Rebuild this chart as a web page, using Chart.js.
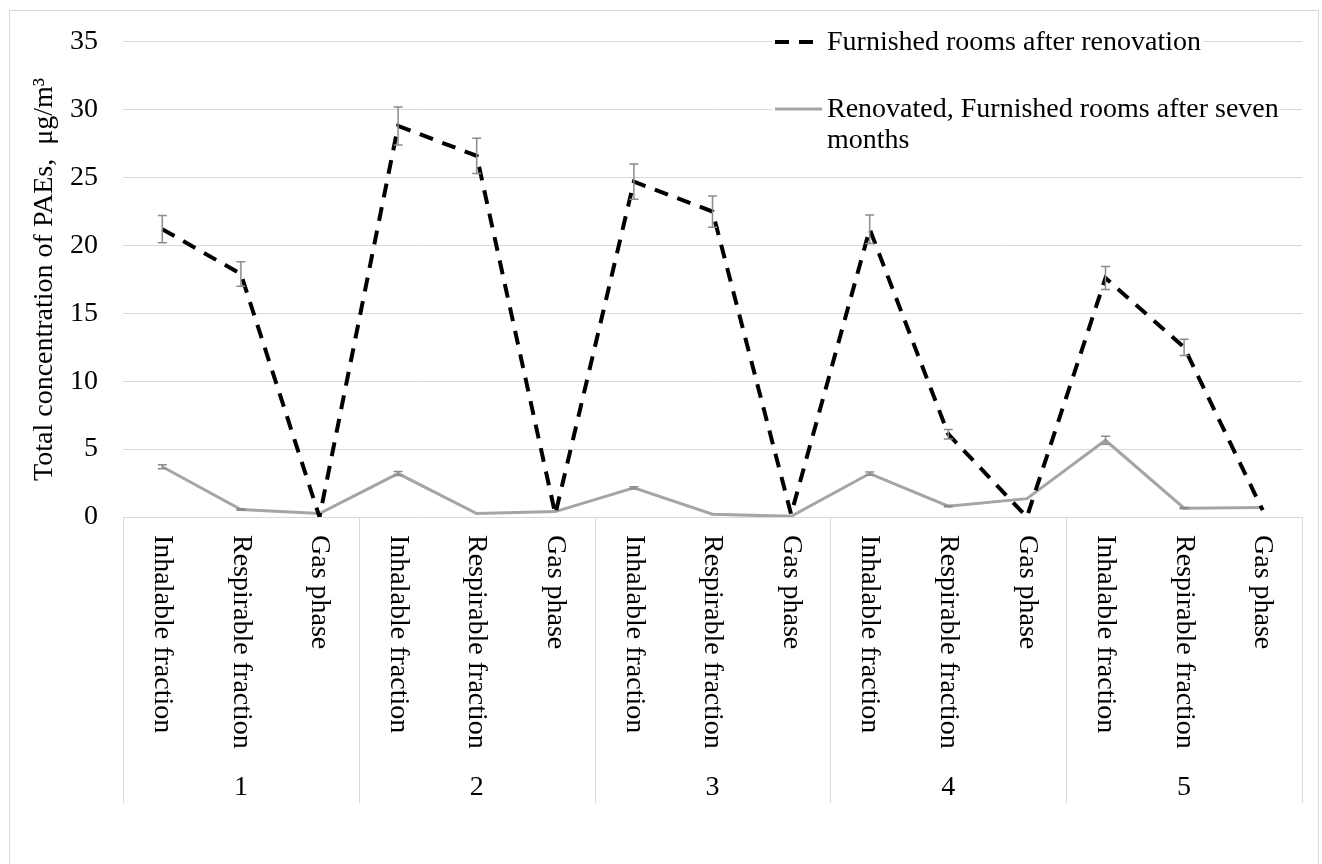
<!DOCTYPE html>
<html>
<head>
<meta charset="utf-8">
<title>PAEs</title>
<script src="https://cdn.jsdelivr.net/npm/chart.js@4/dist/chart.umd.min.js"></script>
<style>
  html, body { margin: 0; padding: 0; background: #fff; }
  canvas { display: block; }
</style>
</head>
<body>
<canvas id="paeChart" width="1322" height="864"></canvas>
<script>
// categorias e grupos (salas 1..5)
const fractions = ["Inhalable fraction", "Respirable fraction", "Gas phase"];
const rooms = ["1", "2", "3", "4", "5"];
const categories = [];
rooms.forEach(function () { fractions.forEach(function (f) { categories.push(f); }); });

const yTicks = [0, 5, 10, 15, 20, 25, 30, 35];

// valores
const afterRenovation = [21.2, 17.9, 0, 28.8, 26.6, 0.2, 24.7, 22.5, 0.2, 21.2, 6.1, 0, 17.6, 12.5, 0.5];
const afterRenovationErr = [1.0, 0.9, 0, 1.4, 1.3, 0, 1.3, 1.15, 0, 1.05, 0.35, 0, 0.85, 0.6, 0];
const afterSevenMonths = [3.7, 0.55, 0.25, 3.2, 0.25, 0.4, 2.15, 0.2, 0.05, 3.2, 0.8, 1.35, 5.65, 0.65, 0.7];
const afterSevenMonthsErr = [0.15, 0.05, 0, 0.15, 0, 0, 0.08, 0, 0, 0.12, 0.05, 0, 0.3, 0.05, 0];

const FONT = "Liberation Serif";
const FS = 28;
const GRID = "#d9d9d9";

// barras de erro
const errorBars = {
    id: "errorBars",
    afterDatasetsDraw(chart) {
        const ctx = chart.ctx;
        const y = chart.scales.y;
        ctx.save();
        ctx.strokeStyle = "#8c8c8c";
        ctx.lineWidth = 1.5;
        chart.data.datasets.forEach(function (ds, di) {
            const meta = chart.getDatasetMeta(di);
            if (!ds.errors) return;
            meta.data.forEach(function (pt, i) {
                const e = ds.errors[i];
                if (!e) return;
                const v = ds.data[i];
                const top = y.getPixelForValue(v + e);
                const bot = y.getPixelForValue(v - e);
                const x = pt.x;
                ctx.beginPath();
                ctx.moveTo(x, top); ctx.lineTo(x, bot);
                ctx.moveTo(x - 4.5, top); ctx.lineTo(x + 4.5, top);
                ctx.moveTo(x - 4.5, bot); ctx.lineTo(x + 4.5, bot);
                ctx.stroke();
            });
        });
        ctx.restore();
    }
};

// eixo x em dois níveis (frações giradas + número da sala)
const groupAxis = {
    id: "groupAxis",
    beforeDraw(chart) {
        const ctx = chart.ctx;
        ctx.save();
        ctx.fillStyle = "#fff";
        ctx.fillRect(0, 0, chart.width, chart.height);
        ctx.strokeStyle = GRID;
        ctx.lineWidth = 1;
        ctx.strokeRect(9.5, 10.5, 1309, 870);
        ctx.restore();
    },
    afterDraw(chart) {
        const ctx = chart.ctx;
        const x = chart.scales.x;
        const area = chart.chartArea;
        const boxBottom = area.bottom + 286;
        ctx.save();
        ctx.strokeStyle = GRID;
        ctx.lineWidth = 1;
        // separadores dos grupos
        const n = fractions.length;
        for (let g = 0; g <= rooms.length; g++) {
            let px;
            if (g === 0) px = area.left;
            else if (g === rooms.length) px = area.right;
            else px = (x.getPixelForValue(g * n - 1) + x.getPixelForValue(g * n)) / 2;
            px = Math.round(px) + 0.5;
            ctx.beginPath();
            ctx.moveTo(px, area.bottom);
            ctx.lineTo(px, boxBottom);
            ctx.stroke();
        }
        ctx.fillStyle = "#000";
        ctx.font = FS + "px '" + FONT + "'";
        ctx.textAlign = "left";
        ctx.textBaseline = "middle";
        categories.forEach(function (label, i) {
            const px = x.getPixelForValue(i);
            ctx.save();
            ctx.translate(px, area.bottom + 18);
            ctx.rotate(Math.PI / 2);
            ctx.fillText(label, 0, 0);
            ctx.restore();
        });
        ctx.textAlign = "center";
        rooms.forEach(function (r, g) {
            const px = (x.getPixelForValue(g * n) + x.getPixelForValue(g * n + n - 1)) / 2;
            ctx.fillText(r, px, area.bottom + 271);
        });
        ctx.restore();
    }
};

// legenda no canto superior direito
const sideLegend = {
    id: "sideLegend",
    afterDraw(chart) {
        const ctx = chart.ctx;
        const area = chart.chartArea;
        const textX = 827;
        const maxW = area.right - textX;
        const rows = [43, 110];
        const lineH = 31;
        ctx.save();
        ctx.font = FS + "px '" + FONT + "'";
        ctx.textBaseline = "middle";
        ctx.textAlign = "left";
        chart.data.datasets.forEach(function (ds, di) {
            // quebra de linha simples
            const words = ds.label.split(" ");
            const lines = [];
            let cur = "";
            words.forEach(function (w) {
                const t = cur ? cur + " " + w : w;
                if (ctx.measureText(t).width > maxW && cur) { lines.push(cur); cur = w; }
                else cur = t;
            });
            lines.push(cur);
            const y0 = rows[di];
            // fundo branco atrás do texto
            ctx.fillStyle = "#fff";
            lines.forEach(function (l, li) {
                ctx.fillRect(772, y0 + li * lineH - 13, textX - 772 + ctx.measureText(l).width + 2, 26);
            });
            ctx.strokeStyle = ds.borderColor;
            ctx.lineWidth = ds.borderWidth;
            ctx.setLineDash(ds.borderDash || []);
            ctx.beginPath();
            ctx.moveTo(775, y0 - 1);
            ctx.lineTo(822, y0 - 1);
            ctx.stroke();
            ctx.setLineDash([]);
            ctx.fillStyle = "#000";
            lines.forEach(function (l, li) {
                ctx.fillText(l, textX, y0 + li * lineH);
            });
        });
        ctx.restore();
    }
};

document.addEventListener("DOMContentLoaded", function () {
    const canvas = document.getElementById("paeChart");
    new Chart(canvas, {
        type: "line",
        data: {
            labels: categories,
            datasets: [
                {
                    label: "Furnished rooms after renovation",
                    data: afterRenovation,
                    errors: afterRenovationErr,
                    borderColor: "#000000",
                    borderWidth: 4,
                    borderDash: [14, 10],
                    pointRadius: 0,
                    tension: 0,
                    fill: false,
                },
                {
                    label: "Renovated, Furnished rooms after seven months",
                    data: afterSevenMonths,
                    errors: afterSevenMonthsErr,
                    borderColor: "#a5a5a5",
                    borderWidth: 3,
                    pointRadius: 0,
                    tension: 0,
                    fill: false,
                },
            ],
        },
        options: {
            responsive: false,
            maintainAspectRatio: false,
            animation: false,
            devicePixelRatio: 1,
            layout: { padding: { left: 0, top: 34, right: 20, bottom: 61 } },
            plugins: {
                legend: { display: false },
                tooltip: { enabled: false },
            },
            scales: {
                x: {
                    offset: true,
                    grid: { display: false },
                    border: { display: false },
                    ticks: { display: false },
                    afterFit: function (s) { s.height = 286; },
                },
                y: {
                    min: 0,
                    max: 35,
                    afterBuildTicks: function (s) { s.ticks = yTicks.map(function (v) { return { value: v }; }); },
                    grid: { color: GRID, lineWidth: 1, drawTicks: false },
                    border: { display: false },
                    ticks: {
                        padding: 25,
                        color: "#000",
                        font: { family: FONT, size: FS },
                    },
                    title: {
                        display: true,
                        text: "Total concentration of PAEs,  μg/m³",
                        color: "#000",
                        font: { family: FONT, size: FS },
                        padding: { top: 28, bottom: 0 },
                    },
                    afterFit: function (s) { s.width = 123; },
                },
            },
        },
        plugins: [groupAxis, errorBars, sideLegend],
    });
});
</script>
</body>
</html>
